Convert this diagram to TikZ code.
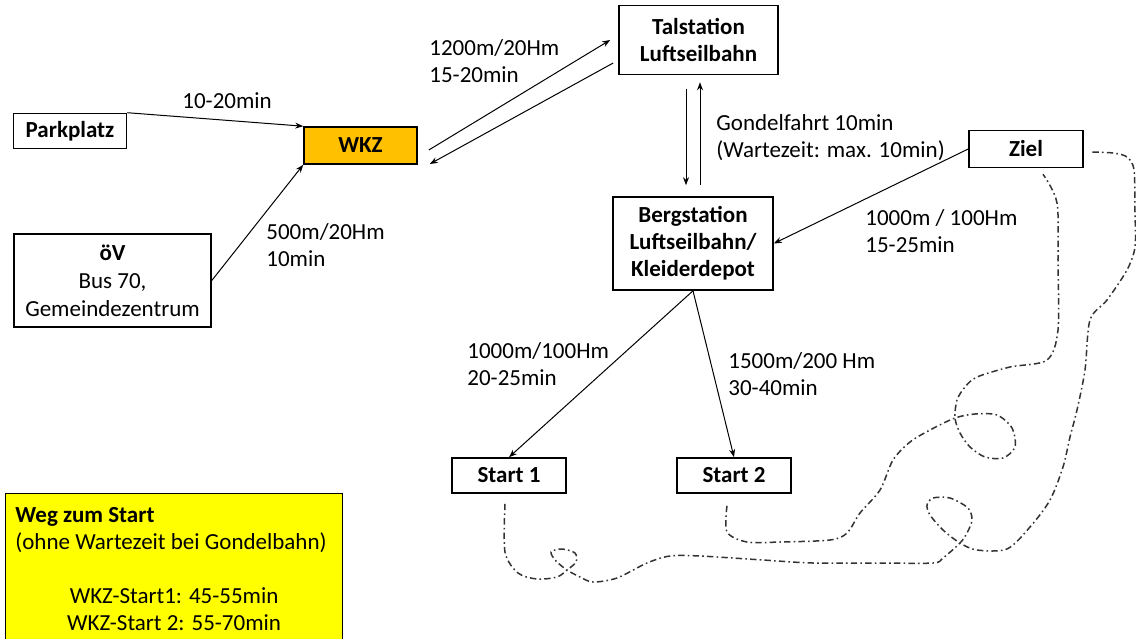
\documentclass[tikz,border=0pt]{standalone}
\usepackage{fontspec}
\setmainfont{Carlito}
\usepackage{tikz}
\usetikzlibrary{arrows.meta, positioning, calc}
\definecolor{wkzorange}{HTML}{FFC000}
\definecolor{legendyellow}{HTML}{FFFF00}
\definecolor{trailgray}{HTML}{333333}

\begin{document}
\begin{tikzpicture}[
    x=0.5pt, y=-0.5pt,
    font=\fontsize{11.5}{13.5}\selectfont,
    site/.style={
        draw=black, line width=0.8pt, fill=white,
        minimum width=57pt, minimum height=18pt,
        font=\fontsize{11.5}{13.5}\selectfont\bfseries, align=center, inner sep=2pt
    },
    hub/.style={site, fill=wkzorange},
    info/.style={anchor=west, align=left, inner sep=0pt},
    arrow/.style={-{Stealth[length=4pt, width=3pt]}, line width=0.5pt},
    trail/.style={draw=trailgray, line width=0.75pt, dash pattern=on 3.2pt off 1.6pt on 0.8pt off 1.6pt},
    legendbox/.style={draw=black, line width=0.6pt, fill=legendyellow, anchor=north west,
        minimum width=168.5pt, minimum height=80pt}
]
\useasboundingbox (0,0) rectangle (1136,638);

% Places
\node[site, minimum width=56.5pt, minimum height=17.5pt] (parkplatz) at (70,131) {Parkplatz};
\node[hub, minimum width=56.5pt, minimum height=18.5pt] (wkz) at (360.5,145.5) {WKZ};
\node[site, minimum width=98.5pt, minimum height=46.5pt, font=\fontsize{11.5}{14}\selectfont] (oev) at (112.5,280.5) {\textbf{öV}\\Bus 70,\\Gemeindezentrum};
\node[site, minimum width=79.5pt, minimum height=34.5pt] (talstation) at (698.5,40) {Talstation\\Luftseilbahn};
\node[site, minimum width=80pt, minimum height=46.5pt] (bergstation) at (693,243.5) {Bergstation\\Luftseilbahn/\\Kleiderdepot};
\node[site, minimum height=18.5pt] (ziel) at (1026,149) {Ziel};
\node[site, minimum height=17.5pt] (start1) at (509,475.5) {Start 1};
\node[site, minimum height=17.5pt] (start2) at (734,475.5) {Start 2};

% Route labels
\node[info] (lparkplatz) at (182,101) {10-20min};
\node[info] (loev) at (266,245) {500m/20Hm\\10min};
\node[info] (ltal) at (429,61) {1200m/20Hm\\15-20min};
\node[info] (lgondel) at (716,138) {Gondelfahrt 10min\\(Wartezeit: max. 10min)};
\node[info] (lziel) at (865,231) {1000m / 100Hm\\15-25min};
\node[info] (lstart1) at (467,364) {1000m/100Hm\\20-25min};
\node[info] (lstart2) at (728,374) {1500m/200 Hm\\30-40min};

% Arrows
\draw[arrow] (parkplatz.north east) -- (wkz.north west);
\draw[arrow] (oev.east) -- (wkz.south west);
\draw[arrow] ($(wkz.east)+(11,4.5)$) -- ($(talstation.west)+(-8,0)$);
\draw[arrow] ($(talstation.west)+(-5,23)$) -- ($(wkz.east)+(12,18.5)$);
\draw[arrow, shorten <=7pt, shorten >=5.5pt] ([xshift=-3.5pt]bergstation.north |- talstation.south) -- ([xshift=-3.5pt]bergstation.north);
\draw[arrow, shorten <=5.5pt, shorten >=3.5pt] ([xshift=3.5pt]bergstation.north) -- ([xshift=3.5pt]bergstation.north |- talstation.south);
\draw[arrow] (ziel.west) -- (bergstation.east);
\draw[arrow] (bergstation.south) -- (start1.north);
\draw[arrow] (bergstation.south) -- (start2.north);

% Trails to the goal
\coordinate (t1a) at ($(start1.south)+(-4,10)$);
\coordinate (t1b) at ($(ziel.east)+(7,3)$);
\coordinate (t2a) at ($(start2.south)+(-7,12)$);
\coordinate (t2b) at ($(ziel.south)+(17,6)$);
\draw[trail] plot[smooth] coordinates {(t1a) (505,552) (518,573) (537,579) (557,577) (567,570) (576,562)
    (575,553) (562,549) (551,552) (556,561) (567,570) (580,577) (593,582) (617,578) (647,563)
    (670,556) (700,556) (763,560) (813,563) (880,563) (933,563) (943,558) (960,543) (967,533)
    (972,520) (968,508) (950,498) (933,498) (927,505) (930,515) (943,530) (960,543) (977,550)
    (1007,549) (1030,527) (1050,500) (1063,467) (1070,437) (1077,410) (1085,370) (1090,320)
    (1107,300) (1127,270) (1135,247) (1135,213) (1134,170) (1127,157) (1113,153) (t1b)};
\draw[trail] plot[smooth] coordinates {(t2a) (727,532) (747,542) (780,542) (830,540) (847,533)
    (860,513) (880,490) (893,460) (910,442) (930,430) (955,418) (975,414) (997,415) (1012,428)
    (1015,447) (1003,458) (985,457) (970,447) (960,433) (955,418) (957,400) (965,387) (977,377)
    (1010,367) (1047,360) (1058,330) (1058,263) (1057,203) (t2b)};

% Legend
\node[legendbox] (legend) at (5,493) {};
\node[info, anchor=north west] (legendhead) at ($(legend.north west)+(10,14)$) {\textbf{Weg zum Start}\\(ohne Wartezeit bei Gondelbahn)};
\node[inner sep=0pt, align=center] (legendtimes) at ($(legend.north)+(0,116)$) {WKZ-Start1: 45-55min\\WKZ-Start 2: 55-70min};

\end{tikzpicture}
\end{document}
